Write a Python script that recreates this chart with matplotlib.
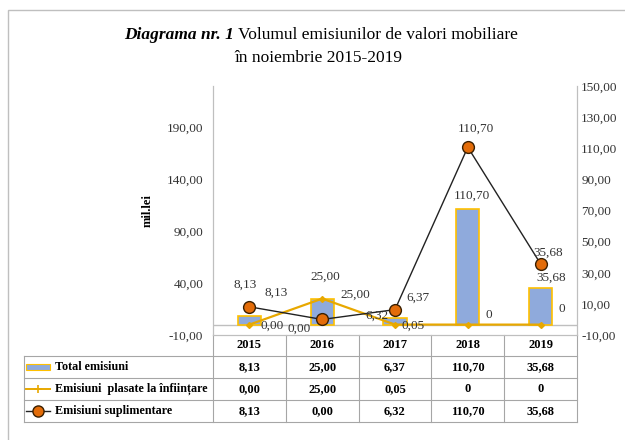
import matplotlib
matplotlib.use("Agg")
import matplotlib.pyplot as plt
from matplotlib.patches import Rectangle
from matplotlib.lines import Line2D
from matplotlib.ticker import FuncFormatter, FixedLocator
from matplotlib.transforms import blended_transform_factory

plt.rcParams['font.family'] = ['Liberation Serif', 'DejaVu Serif']

# data
years = ["2015", "2016", "2017", "2018", "2019"]
total = [8.13, 25.00, 6.37, 110.70, 35.68]
plasate = [0.00, 25.00, 0.05, 0, 0]
suplim = [8.13, 0.00, 6.32, 110.70, 35.68]

total_txt = ["8,13", "25,00", "6,37", "110,70", "35,68"]
plasate_txt = ["0,00", "25,00", "0,05", "0", "0"]
suplim_txt = ["8,13", "0,00", "6,32", "110,70", "35,68"]

# label offsets (pixels, relative to point)
total_off = [(27, 23), (33, 4), (23, 20), (4, 14), (11, 10)]
plasate_off = [(23, -1), (3, 22), (18, -1), (21, 10), (21, 16)]
suplim_off = [(-4, 22), (-23, -9), (-18, -6), (8, 18), (8, 11)]

bar_col = '#8FAADC'
bar_edge = '#FFC000'
yel = '#E8A800'
dot_col = '#E36C09'
grid_col = '#A6A6A6'

def comma(v, pos=None):
    return f"{v:.2f}".replace('.', ',')

fig = plt.figure(figsize=(6.25, 4.4), dpi=100)
ax = fig.add_axes([0.3408, 0.2386, 0.5824, 0.5659])
ax2 = ax.twinx()

x = list(range(len(years)))

ax.bar(x, total, width=0.32, color=bar_col, edgecolor=bar_edge, linewidth=1.2, zorder=2)
ax.axhline(0, color='#BFBFBF', lw=1, zorder=1)
ax.plot(x, plasate, color=yel, lw=1.6, marker='D', ms=3, zorder=3)
ax2.plot(x, suplim, color='#222222', lw=1, marker='o', ms=8.5,
         mfc=dot_col, mec='#3A1F00', mew=1, zorder=3)

ax.set_xlim(-0.5, len(years) - 0.5)
ax.set_ylim(-10, 229.4)
ax2.set_ylim(-10, 150)
ax.yaxis.set_major_locator(FixedLocator([-10, 40, 90, 140, 190]))
ax2.yaxis.set_major_locator(FixedLocator(list(range(-10, 151, 20))))
ax.yaxis.set_major_formatter(FuncFormatter(comma))
ax2.yaxis.set_major_formatter(FuncFormatter(comma))
ax.set_xticks([])
ax.tick_params(axis='y', length=0, pad=7, labelsize=9.5, labelcolor='#333333')
ax2.tick_params(axis='y', length=0, pad=3, labelsize=9.5, labelcolor='#333333')

for a in (ax, ax2):
    a.spines['top'].set_visible(False)
    for s in ('left', 'right', 'bottom'):
        a.spines[s].set_color('#BFBFBF')
ax.set_ylabel("mil.lei", fontsize=9, fontweight='bold', labelpad=9)

# data labels
for i in x:
    ax.annotate(total_txt[i], (i, total[i]), xytext=total_off[i], textcoords='offset pixels',
                ha='center', va='center', fontsize=9.5, color='#333333', zorder=5)
    ax.annotate(plasate_txt[i], (i, plasate[i]), xytext=plasate_off[i], textcoords='offset pixels',
                ha='center', va='center', fontsize=9.5, color='#333333', zorder=5)
    ax2.annotate(suplim_txt[i], (i, suplim[i]), xytext=suplim_off[i], textcoords='offset pixels',
                 ha='center', va='center', fontsize=9.5, color='#333333', zorder=5)

# data table below the plot
tr = blended_transform_factory(ax.transData, ax.transAxes)
leg_x = -0.519
row_lines = [-0.0843, -0.1727, -0.261, -0.3494]
row_mid = [-0.042, -0.1285, -0.2169, -0.3052]

def tline(xs, ys):
    ax.add_line(Line2D(xs, ys, transform=ax.transAxes, color=grid_col, lw=0.8, clip_on=False))

for yl in row_lines:
    tline([leg_x, 1], [yl, yl])
tline([leg_x, leg_x], [row_lines[0], row_lines[-1]])
for k in range(len(years) + 1):
    xa = k / len(years)
    tline([xa, xa], [0, row_lines[-1]])

rows = [total_txt, plasate_txt, suplim_txt]
for i, yr in enumerate(years):
    ax.text(i, row_mid[0], yr, transform=tr, ha='center', va='center',
            fontsize=9, fontweight='bold', clip_on=False)
    for r, vals in enumerate(rows):
        ax.text(i, row_mid[r + 1], vals[i], transform=tr, ha='center', va='center',
                fontsize=9, fontweight='bold', clip_on=False)

names = ["Total emisiuni", "Emisiuni  plasate la înființare", "Emisiuni suplimentare"]
for r, nm in enumerate(names):
    ax.text(-0.434, row_mid[r + 1], nm, transform=ax.transAxes, ha='left', va='center',
            fontsize=8.7, fontweight='bold', clip_on=False)

ax.add_patch(Rectangle((-0.514, row_mid[1] - 0.014), 0.066, 0.028, transform=ax.transAxes,
                       facecolor=bar_col, edgecolor=bar_edge, lw=0.8, clip_on=False))
ax.add_line(Line2D([-0.514, -0.448], [row_mid[2]] * 2, transform=ax.transAxes, color=yel, lw=1.4,
                   clip_on=False))
ax.add_line(Line2D([-0.481], [row_mid[2]], transform=ax.transAxes, color=yel, marker='+', ms=6,
                   mew=1.2, clip_on=False))
ax.add_line(Line2D([-0.514, -0.448], [row_mid[3]] * 2, transform=ax.transAxes, color='#222222', lw=1,
                   clip_on=False))
ax.add_line(Line2D([-0.481], [row_mid[3]], transform=ax.transAxes, marker='o', ms=8, mfc=dot_col,
                   mec='#3A1F00', clip_on=False))

# title
fig.text(0.3744, 0.9205, "Diagrama nr. 1", ha='right', va='center', fontsize=12.5,
         fontweight='bold', fontstyle='italic')
fig.text(0.3744, 0.9205, " Volumul emisiunilor de valori mobiliare", ha='left', va='center',
         fontsize=12.5)
fig.text(0.509, 0.868, "în noiembrie 2015-2019", ha='center', va='center', fontsize=12.5)

# outer frame
fig.patches.append(Rectangle((8 / 625, -0.1), 1.2, 0.977 + 0.1, transform=fig.transFigure,
                             fill=False, edgecolor='#BFBFBF', lw=1))

fig.savefig("out.png", dpi=100)
